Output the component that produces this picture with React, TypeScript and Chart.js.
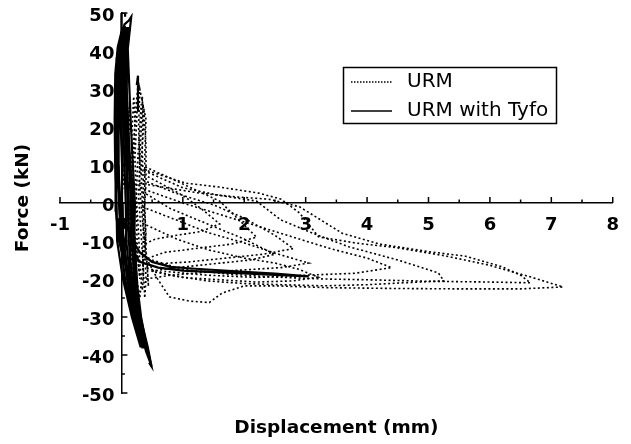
import React, { useEffect, useRef } from 'react';
import { Chart, registerables } from 'chart.js';

Chart.register(...registerables);

type P = [number, number];

// ---- axis settings / text ----
const xMin = -1;
const xMax = 8;
const xStep = 1;
const yMin = -50;
const yMax = 50;
const yStep = 10;
const xTitle = 'Displacement (mm)';
const yTitle = 'Force (kN)';
const seriesNames = ['URM', 'URM with Tyfo'];

// ---- URM (dotted) hysteresis traces ----
const urmSpine: P[] = [
  [0, 0], [0.05, 10], [0.1, 20], [0.14, 27], [0.12, 18], [0.1, 8], [0.12, -2], [0.15, -10], [0.18, -18],
  [0.22, -22], [0.24, -14], [0.2, -4], [0.18, 6], [0.2, 16], [0.24, 26], [0.27, 31], [0.25, 22], [0.22, 12],
  [0.24, 2], [0.28, -8], [0.3, -16], [0.34, -23], [0.36, -18], [0.32, -8], [0.28, 2], [0.3, 12], [0.33, 22],
  [0.34, 28], [0.36, 20], [0.32, 10], [0.34, 0], [0.38, -10], [0.4, -20], [0.38, -25], [0.35, -15],
  [0.36, -5], [0.4, 5], [0.4, 15], [0.37, 24], [0.3, 30], [0.28, 20], [0.3, 10],
];
const urmSpine2: P[] = [
  [0.15, 0], [0.2, 12], [0.22, 22], [0.2, 28], [0.17, 18], [0.16, 6], [0.2, -6], [0.26, -14], [0.3, -20],
  [0.26, -12], [0.24, -2], [0.26, 10], [0.3, 20], [0.32, 26], [0.29, 16], [0.3, 4], [0.35, -6], [0.42, -16],
  [0.44, -22], [0.4, -12], [0.38, 0], [0.38, 12], [0.4, 22], [0.35, 26], [0.34, 14], [0.36, 2], [0.4, -8],
  [0.3, -25], [0.25, -20], [0.2, -10],
];
const urmLoop1: P[] = [
  [0.3, 8], [0.6, 5.5], [1.0, 2], [1.3, -1.5], [1.6, -5.5], [1.3, -7.5], [0.9, -8.5], [0.55, -9.5], [0.35, -11],
];
const urmLoop2: P[] = [
  [0.32, 10], [0.8, 6.5], [1.2, 3.5], [1.6, 0.5], [1.95, -5], [2.2, -9], [1.8, -10.8], [1.2, -12], [0.7, -13],
  [0.35, -15],
];
const urmLoop3: P[] = [
  [0.34, 3], [0.8, -1.5], [1.4, -5.5], [2.0, -9.5], [2.5, -13.5], [2.1, -15], [1.5, -16], [0.9, -17], [0.45, -18],
];
const urmLoop4: P[] = [
  [0.34, -1], [0.9, -4.5], [1.43, -7.9], [2.0, -10.5], [2.5, -13.2], [3.05, -15.8], [2.6, -17], [2.0, -17.6],
  [1.4, -18.2], [0.8, -19], [0.4, -20],
];
const urmLoop5: P[] = [
  [0.34, -5.3], [0.9, -9.5], [1.43, -12.4], [2.0, -14.5], [2.5, -15.8], [2.9, -17.5], [3.2, -19.5], [2.8, -20.5],
  [2.2, -20.8], [1.6, -20.2], [1.0, -19.6], [0.5, -18],
];
const urmLoop6: P[] = [
  [0.3, 9], [1.0, 4], [1.6, 2], [2.2, 0.5], [2.6, -4.5], [3.2, -8.5], [3.7, -11.5], [4.5, -15], [5.16, -18.4],
  [5.25, -20.5], [4.6, -21], [4.0, -21.5], [3.3, -21.8], [2.6, -21.5], [2.0, -21.2], [1.4, -20.5], [0.8, -19],
  [0.4, -17],
];
const urmLoop7: P[] = [
  [0.29, 5.2], [1.27, 2.6], [1.87, 1.6], [2.4, 1], [2.9, -1], [3.2, -4], [3.6, -8], [4.2, -10.8], [5.0, -12.8],
  [5.6, -14], [6.2, -16.8], [6.5, -19], [6.66, -21], [6.0, -20.8], [5.0, -20.6], [4.0, -20.2], [3.3, -20],
  [2.5, -19.5], [1.8, -18.8], [1.0, -17.5], [0.5, -15],
];
const urmLoop8: P[] = [
  [0.29, 9.2], [1.05, 5.2], [1.59, 4.2], [2.24, 2.6], [2.6, 1], [2.9, -2.6], [3.21, -8.9], [3.8, -10.5],
  [4.5, -11.8], [5.3, -14], [5.97, -16.3], [6.67, -19.5], [7.19, -22.1], [6.5, -22.6], [5.5, -22.6],
  [4.5, -22.5], [3.4, -22.3], [2.5, -21.8], [2.0, -21.8], [1.64, -23.7], [1.43, -26.2], [1.1, -25.8],
  [0.78, -24.7], [0.57, -19.5], [0.34, -12.4],
];
const urmLoop9: P[] = [
  [0.35, 6], [0.9, 2.5], [1.5, -0.5], [2.0, -4], [2.5, -8.5], [2.8, -12], [2.3, -13.5], [1.7, -14.5],
  [1.1, -15.5], [0.6, -16],
];
const urmLoop10: P[] = [
  [0.3, 4], [1.0, 0], [1.6, -3], [2.2, -6], [2.8, -9], [3.4, -12], [4.0, -14.5], [4.4, -17], [3.8, -18.5],
  [3.0, -19], [2.2, -19.6], [1.4, -19], [0.7, -18],
];

// ---- URM with Tyfo (solid) traces ----
const tyfoMain: P[] = [
  [0, 0], [0.02, 10], [0, 20], [-0.02, 28], [0, 34], [0.03, 30], [0.06, 20], [0.08, 10], [0.1, 0], [0.08, -8],
  [0.04, -14], [0, -10], [-0.04, 0], [-0.06, 12], [-0.07, 25], [-0.05, 36], [-0.02, 40], [0.02, 38], [0.05, 28],
  [0.1, 15], [0.14, 5], [0.16, -5], [0.14, -15], [0.1, -20], [0.06, -16], [0.02, -8], [-0.06, 5], [-0.09, 18],
  [-0.1, 30], [-0.08, 38], [-0.03, 42], [0.03, 44], [0.06, 38], [0.09, 28], [0.13, 14], [0.18, 2], [0.2, -8],
  [0.2, -18], [0.24, -24], [0.28, -28], [0.22, -26], [0.14, -22], [0.08, -18], [0.02, -12], [-0.08, -4],
  [-0.1, 8], [-0.11, 22], [-0.1, 34], [-0.06, 41], [0, 45], [0.06, 46], [0.1, 42], [0.12, 34], [0.15, 22],
  [0.18, 12], [0.22, 0], [0.21, -10], [0.24, -20], [0.3, -28], [0.36, -34], [0.42, -38], [0.46, -41],
  [0.49, -43], [0.44, -40], [0.36, -37], [0.3, -34], [0.24, -30], [0.18, -27], [0.12, -22], [0.06, -16],
  [-0.04, -10], [-0.09, -2], [-0.1, 10], [-0.09, 24], [-0.06, 36], [-0.01, 43], [0.05, 47], [0.12, 48],
  [0.16, 49], [0.14, 46], [0.1, 40], [0.08, 30], [0.1, 20], [0.15, 8], [0.2, -4], [0.23, -14], [0.26, -22],
  [0.32, -30], [0.4, -37], [0.47, -42], [0.4, -39], [0.34, -35], [0.28, -31], [0.2, -28], [0.14, -25],
  [0.1, -18], [0.04, -10], [-0.02, -2], [-0.05, 10],
];
const tyfoPass2: P[] = [
  [0.315, -38], [0.17, -30], [0.025, -20], [-0.07, -10], [-0.08, 0], [-0.08, 10], [-0.085, 20], [-0.09, 30],
  [-0.04, 40], [0.015, 46], [0.04, 46], [-0.015, 40], [-0.05, 30], [-0.05, 20], [-0.04, 10], [-0.03, 0],
  [-0.02, -10], [0.06, -20], [0.2, -30], [0.34, -38], [0.36, -38], [0.23, -30], [0.1, -20], [0.03, -10],
  [0.02, 0], [0.01, 10], [-0.01, 20], [-0.02, 30], [0.01, 40], [0.06, 46], [0.08, 46], [0.04, 40], [0.02, 30],
  [0.03, 20], [0.05, 10], [0.07, 0], [0.08, -10], [0.14, -20], [0.25, -30], [0.38, -38], [0.405, -38],
  [0.28, -30], [0.175, -20], [0.12, -10], [0.12, 0], [0.09, 10], [0.065, 20], [0.05, 30], [0.065, 40],
  [0.105, 46], [0.13, 46], [0.09, 40], [0.085, 30], [0.1, 20], [0.14, 10], [0.17, 0], [0.17, -10],
  [0.21, -20], [0.31, -30], [0.43, -38], [0.49, -43], [0.45, -42],
];
const tyfoTail: P[] = [
  [0.05, -4], [0.15, -9], [0.3, -13], [0.5, -15.5], [0.8, -16.8], [1.2, -17.3], [1.6, -17.7], [2.0, -18.1],
  [2.5, -18.6], [3.05, -19.3], [2.5, -18.9], [2.0, -18.5], [1.5, -18.2], [1.0, -17.8], [0.6, -17], [0.3, -15.5],
  [0.15, -12],
];
const tyfoTop: P[] = [[0.0, 40], [0.0, 50], [0.06, 50], [0.06, 49]];
const tyfoMark: P[] = [[0.27, 24], [0.27, 33.5], [0.25, 31]];

const urmTraces = [
  urmSpine, urmSpine2, urmLoop1, urmLoop2, urmLoop3, urmLoop4, urmLoop5, urmLoop6, urmLoop7, urmLoop8,
  urmLoop9, urmLoop10,
];
const tyfoTraces = [tyfoMain, tyfoPass2, tyfoTail, tyfoTop, tyfoMark];

const FONT = "'DejaVu Sans', sans-serif";
const URM_DASH = [2, 2.5];

const decorPlugin = {
  id: 'decor',
  beforeDatasetsDraw(chart: any) {
    const { ctx } = chart;
    const xs = chart.scales.x;
    const ys = chart.scales.y;
    const x0 = xs.getPixelForValue(0);
    const y0 = ys.getPixelForValue(0);
    ctx.save();
    ctx.strokeStyle = '#000';
    ctx.lineWidth = 1.5;
    ctx.beginPath();
    xs.ticks.forEach((t: any) => {
      const p = xs.getPixelForValue(t.value);
      ctx.moveTo(p, y0);
      ctx.lineTo(p, y0 - 6);
      if (t.value < xMax) {
        const m = xs.getPixelForValue(t.value + xStep / 2);
        ctx.moveTo(m, y0);
        ctx.lineTo(m, y0 - 3.5);
      }
    });
    ys.ticks.forEach((t: any) => {
      const p = ys.getPixelForValue(t.value);
      ctx.moveTo(x0, p);
      ctx.lineTo(x0 + 6, p);
      if (t.value < yMax) {
        const m = ys.getPixelForValue(t.value + yStep / 2);
        ctx.moveTo(x0, m);
        ctx.lineTo(x0 + 3.5, m);
      }
    });
    ctx.stroke();
    ctx.fillStyle = '#000';
    ctx.font = `bold 18px ${FONT}`;
    ctx.textAlign = 'right';
    ctx.textBaseline = 'middle';
    ys.ticks.forEach((t: any) => {
      ctx.fillText(String(t.value), x0 - 7, ys.getPixelForValue(t.value) + 3);
    });
    ctx.restore();
  },
  afterDraw(chart: any) {
    const { ctx, chartArea } = chart;
    ctx.save();
    ctx.fillStyle = '#000';
    ctx.font = `bold 18.5px ${FONT}`;
    ctx.textAlign = 'center';
    ctx.textBaseline = 'middle';
    ctx.fillText(xTitle, (chartArea.left + chartArea.right) / 2, 428);
    ctx.translate(23, 198);
    ctx.rotate(-Math.PI / 2);
    ctx.fillText(yTitle, 0, 0);
    ctx.restore();

    ctx.save();
    ctx.strokeStyle = '#000';
    ctx.fillStyle = '#000';
    ctx.lineWidth = 1.5;
    ctx.strokeRect(343.5, 67.5, 213, 56);
    ctx.beginPath();
    ctx.setLineDash([1.5, 1.5]);
    ctx.moveTo(351, 82);
    ctx.lineTo(392, 82);
    ctx.stroke();
    ctx.beginPath();
    ctx.setLineDash([]);
    ctx.moveTo(351, 111);
    ctx.lineTo(392, 111);
    ctx.stroke();
    ctx.font = `20px ${FONT}`;
    ctx.textAlign = 'left';
    ctx.textBaseline = 'middle';
    ctx.fillText(seriesNames[0], 407, 82);
    ctx.fillText(seriesNames[1], 407, 111);
    ctx.restore();
  },
};

export default function App() {
  const ref = useRef<HTMLCanvasElement | null>(null);
  useEffect(() => {
    if (!ref.current) return;
    const datasets: any[] = [];
    tyfoTraces.forEach((tr) =>
      datasets.push({
        label: seriesNames[1],
        data: tr.map(([x, y]) => ({ x, y })),
        showLine: true,
        borderColor: '#000',
        borderWidth: 2.2,
        pointRadius: 0,
        tension: 0,
      })
    );
    urmTraces.forEach((tr) =>
      datasets.push({
        label: seriesNames[0],
        data: tr.map(([x, y]) => ({ x, y })),
        showLine: true,
        borderColor: '#000',
        borderWidth: 1.6,
        borderDash: URM_DASH,
        pointRadius: 0,
        tension: 0,
      })
    );
    const chart = new Chart(ref.current, {
      type: 'scatter',
      data: { datasets },
      options: {
        responsive: false,
        animation: false,
        events: [],
        layout: { padding: { left: 60, right: 16, top: 13, bottom: 51 } },
        plugins: { legend: { display: false }, tooltip: { enabled: false } },
        scales: {
          x: {
            type: 'linear',
            position: { y: 0 },
            min: xMin,
            max: xMax,
            grid: { display: false, drawTicks: false },
            border: { display: true, color: '#000', width: 1.5 },
            ticks: {
              stepSize: xStep,
              color: '#000',
              padding: 12,
              font: { family: FONT, size: 18, weight: 'bold' },
            },
          },
          y: {
            type: 'linear',
            position: { x: 0 },
            min: yMin,
            max: yMax,
            grid: { display: false, drawTicks: false },
            border: { display: true, color: '#000', width: 1.5 },
            ticks: { stepSize: yStep, display: false },
          },
        },
      },
      plugins: [decorPlugin],
    } as any);
    return () => chart.destroy();
  }, []);
  return (
    <div style={{ position: 'absolute', left: 0, top: 0, width: 631, height: 444, background: '#fff' }}>
      <canvas ref={ref} width={631} height={444} style={{ display: 'block' }} />
    </div>
  );
}
